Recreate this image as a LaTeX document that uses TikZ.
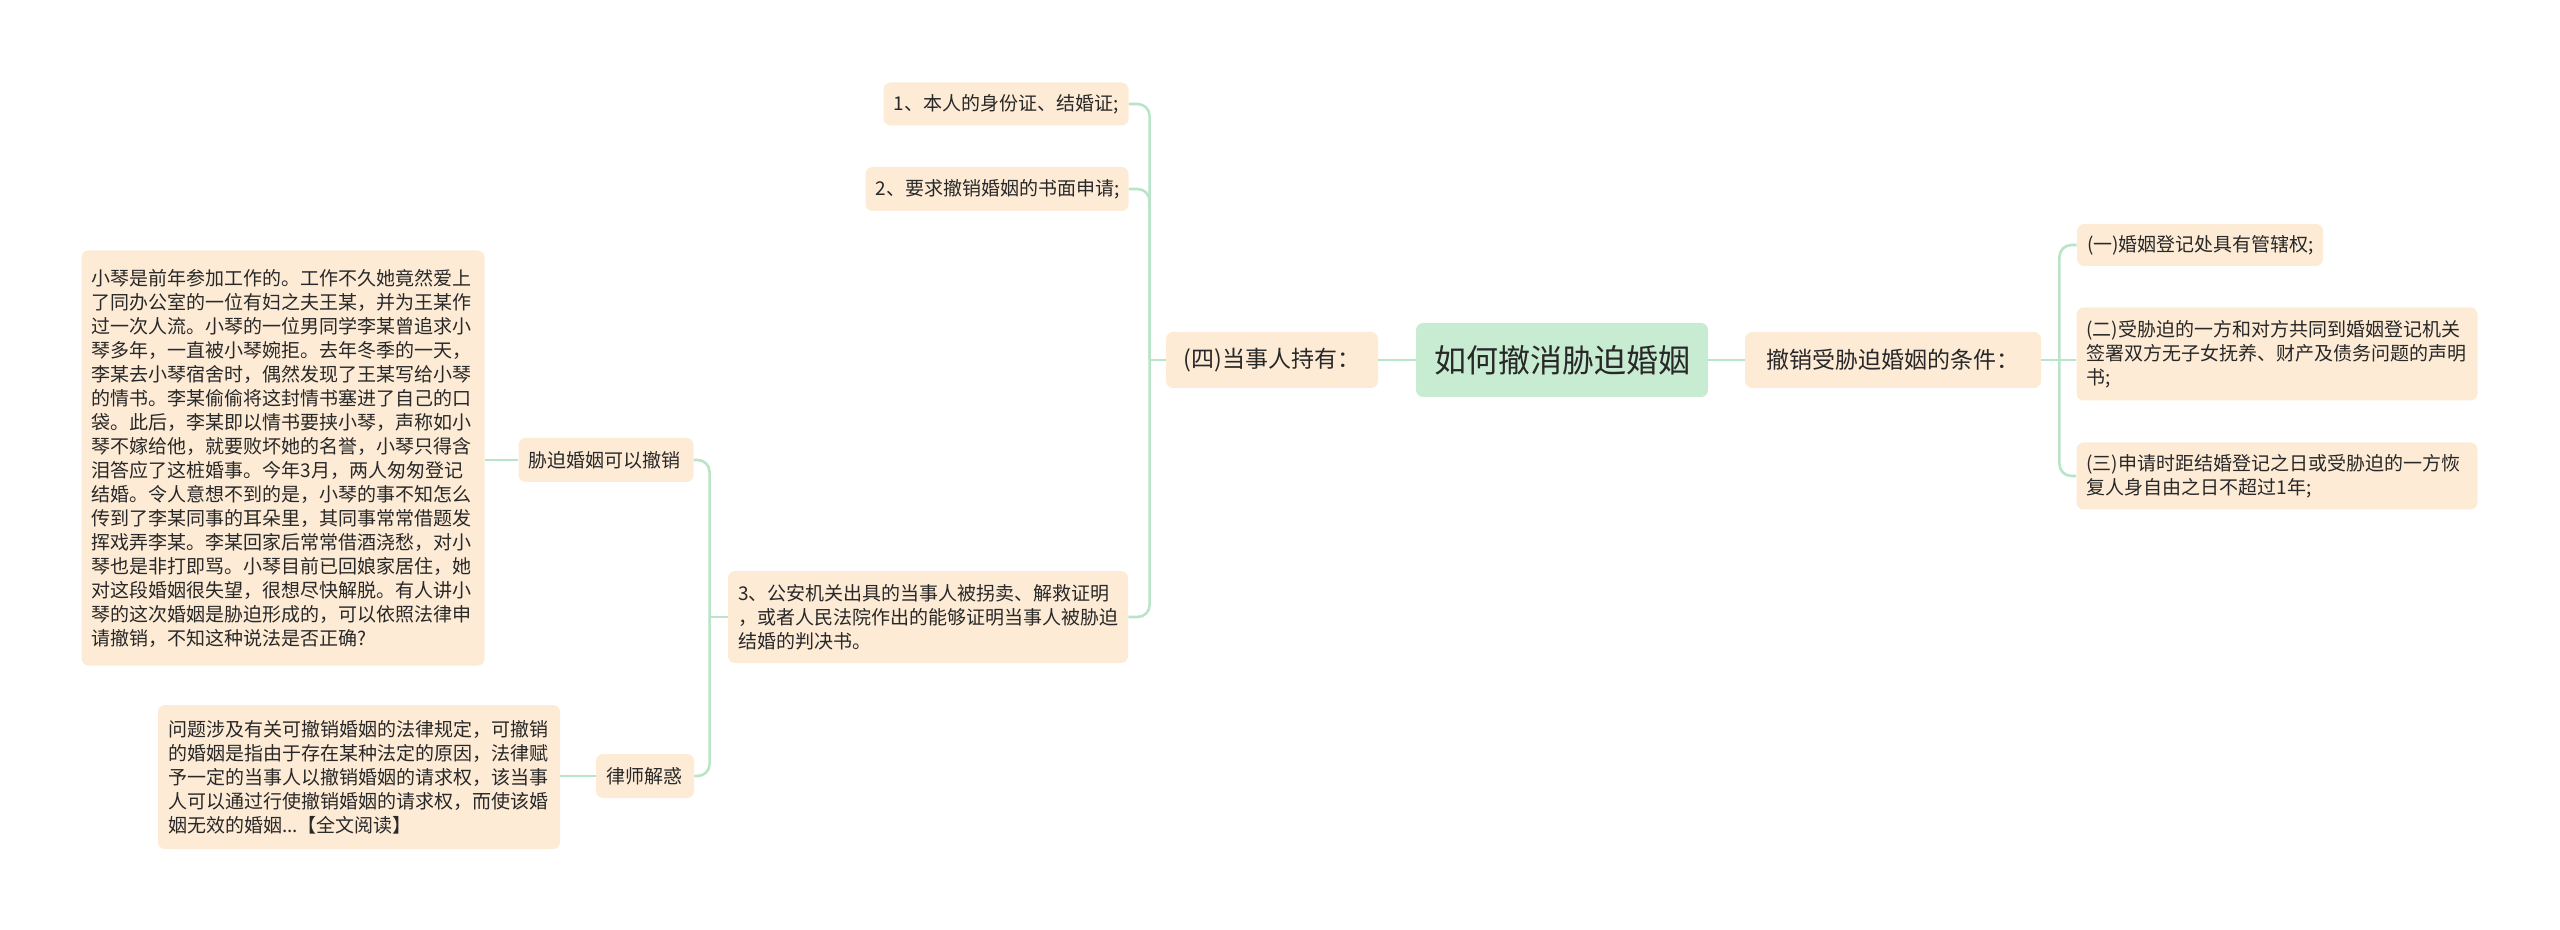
\documentclass[tikz,border=0pt]{standalone}
\usepackage{fontspec}
\setmainfont{Noto Sans CJK SC}
\definecolor{boxfill}{RGB}{253,235,214}
\definecolor{rootfill}{RGB}{199,236,209}
\definecolor{linkgreen}{RGB}{186,228,199}
\definecolor{ink}{RGB}{40,40,40}
\tikzset{%
  topic/.style={fill=boxfill,rounded corners=3.5pt,text=ink,align=left,inner sep=0pt},%
  leaf/.style={topic,font=\fontsize{9.5}{12}\selectfont},%
  branch/.style={topic,font=\fontsize{11.5}{14}\selectfont},%
  sz/.style 2 args={minimum width=#1*.5pt,minimum height=#2*.5pt},% sizes in px
  lsz/.style 2 args={sz={#1}{#2},text width=(#1-20)*.5pt},% leaf text flush left
  link/.style={draw=linkgreen,line width=1.3pt,rounded corners=6pt},%
}

\begin{document}
\begin{tikzpicture}[x=.5pt,y=-.5pt]%
  \useasboundingbox (0,0) rectangle (2560,930);%
  % centre topic and first level
  \node[topic,fill=rootfill,font=\fontsize{16}{18}\selectfont,sz={292}{74}] (root) at (1562,360) {如何撤消胁迫婚姻};%
  \node[branch,sz={212}{56}] (four) at (1272,360) {(四)当事人持有：};%
  \node[branch,sz={296}{56}] (cond) at (1893,360) {撤销受胁迫婚姻的条件：};%
  % left side
  \node[leaf,lsz={245}{43}] (a1) at (1006,104) {1、本人的身份证、结婚证;};%
  \node[leaf,lsz={263}{44}] (a2) at (997,189) {2、要求撤销婚姻的书面申请;};%
  \node[leaf,lsz={400}{92}] (a3) at (928,617) {3、公安机关出具的当事人被拐卖、解救证明\\，或者人民法院作出的能够证明当事人被胁迫\\结婚的判决书。};%
  \node[leaf,lsz={175}{44}] (b1) at (606,460) {胁迫婚姻可以撤销};%
  \node[leaf,lsz={98}{44}] (b2) at (645,776) {律师解惑};%
  \node[leaf,lsz={403}{415}] (c1) at (283,458) {%
    小琴是前年参加工作的。工作不久她竟然爱上\\了同办公室的一位有妇之夫王某，并为王某作\\%
    过一次人流。小琴的一位男同学李某曾追求小\\琴多年，一直被小琴婉拒。去年冬季的一天，\\%
    李某去小琴宿舍时，偶然发现了王某写给小琴\\的情书。李某偷偷将这封情书塞进了自己的口\\%
    袋。此后，李某即以情书要挟小琴，声称如小\\琴不嫁给他，就要败坏她的名誉，小琴只得含\\%
    泪答应了这桩婚事。今年3月，两人匆匆登记\\结婚。令人意想不到的是，小琴的事不知怎么\\%
    传到了李某同事的耳朵里，其同事常常借题发\\挥戏弄李某。李某回家后常常借酒浇愁，对小\\%
    琴也是非打即骂。小琴目前已回娘家居住，她\\对这段婚姻很失望，很想尽快解脱。有人讲小\\%
    琴的这次婚姻是胁迫形成的，可以依照法律申\\请撤销，不知这种说法是否正确?};%
  \node[leaf,lsz={402}{144}] (c2) at (359,777) {%
    问题涉及有关可撤销婚姻的法律规定，可撤销\\的婚姻是指由于存在某种法定的原因，法律赋\\%
    予一定的当事人以撤销婚姻的请求权，该当事\\人可以通过行使撤销婚姻的请求权，而使该婚\\%
    姻无效的婚姻...【全文阅读】};%
  % right side
  \node[leaf,lsz={246}{42}] (r1) at (2200,245) {(一)婚姻登记处具有管辖权;};%
  \node[leaf,lsz={401}{93}] (r2) at (2277,354) {(二)受胁迫的一方和对方共同到婚姻登记机关\\签署双方无子女抚养、财产及债务问题的声明\\书;};%
  \node[leaf,lsz={401}{67}] (r3) at (2277,476) {(三)申请时距结婚登记之日或受胁迫的一方恢\\复人身自由之日不超过1年;};%
  % connectors
  \draw[link] (root.west) -- (four.east);%
  \draw[link] (root.east) -- (cond.west);%
  \draw[link] (four.west) -- ++(-16,0) coordinate (fourbus);%
  \foreach \leaf in {a1,a2,a3}%
    \draw[link] (fourbus) |- (\leaf.east);%
  \draw[link] (a3.west) -- ++(-18,0) coordinate (abus);%
  \foreach \leaf in {b1,b2}%
    \draw[link] (abus) |- (\leaf.east);%
  \draw[link] (b1.west) -- (c1.east |- b1.west);%
  \draw[link] (b2.west) -- (c2.east |- b2.west);%
  \draw[link] (cond.east) -- ++(18,0) coordinate (condbus);%
  \draw[link] (condbus) -- (r2.west |- condbus);%
  \foreach \leaf in {r1,r3}%
    \draw[link] (condbus) |- (\leaf.west);%
\end{tikzpicture}
\end{document}
